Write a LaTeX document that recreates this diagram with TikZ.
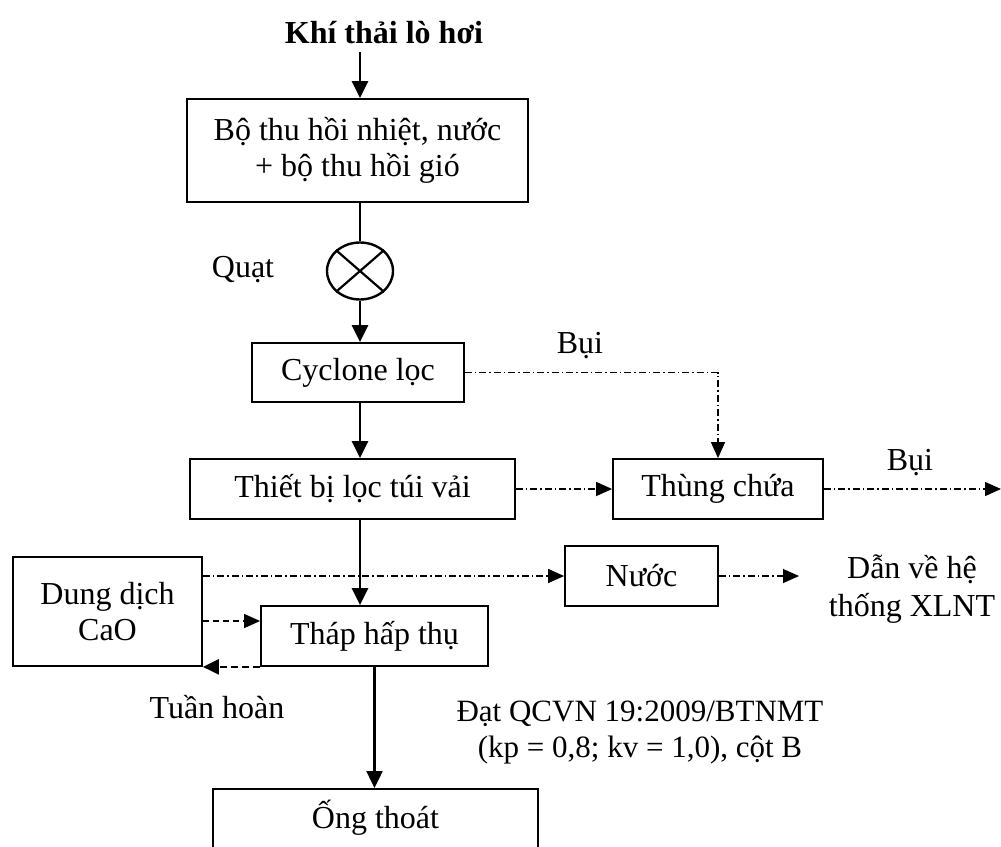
\documentclass[tikz,border=0pt]{standalone}
\usepackage{fontspec}
\setmainfont{Liberation Serif}
\usetikzlibrary{arrows.meta,shapes.geometric}
\begin{document}
\begin{tikzpicture}[x=1pt,y=-1pt,
  box/.style={draw, line width=1.8pt, inner sep=0pt, font=\fontsize{32}{36}\selectfont, align=center},
  lbl/.style={inner sep=0pt, font=\fontsize{32}{36}\selectfont, align=center},
  flow/.style={line width=2.4pt, -{Triangle[length=17pt,width=16pt]}},
  plain/.style={line width=2.4pt},
  ddot/.style={line width=1.3pt, dash pattern=on 7pt off 3pt on 1.5pt off 3pt, -{Triangle[length=16pt,width=14pt]}},
  dsh/.style={line width=1.3pt, dash pattern=on 6pt off 4pt, -{Triangle[length=16pt,width=14pt]}},
  dshthick/.style={line width=2.6pt, dash pattern=on 7pt off 4pt, -{Triangle[length=16pt,width=15pt]}},
]
\clip (0,0) rectangle (1001,846);
\fill[white] (0,0) rectangle (1001,846);

% labels
\node[lbl, font=\fontsize{32}{36}\selectfont\bfseries] (title) at (384,33) {Khí thải lò hơi};
\node[lbl] (quat) at (243,270) {Quạt};
\node[lbl] (bui1) at (580,346) {Bụi};
\node[lbl] (bui2) at (910,463) {Bụi};
\node[lbl, font=\fontsize{32}{38}\selectfont] (xlnt) at (912,589) {Dẫn về hệ\\thống XLNT};
\node[lbl] (tuan) at (217,707) {Tuần hoàn};
\node[lbl, font=\fontsize{31}{36}\selectfont] (dat) at (640,732) {Đạt QCVN 19:2009/BTNMT\\(kp = 0,8; kv = 1,0), cột B};

% boxes
\node[box, minimum width=341pt, minimum height=103pt] (b1) at (357.5,150.5) {Bộ thu hồi nhiệt, nước\\+ bộ thu hồi gió};
\node[draw, ellipse, line width=2.4pt, minimum width=66pt, minimum height=57pt, inner sep=0pt] (fan) at (360,271) {};
\node[box, minimum width=212pt, minimum height=59pt] (cyc) at (358,372.5) {Cyclone lọc};
\node[box, minimum width=325pt, minimum height=60pt] (tb) at (352.5,489) {Thiết bị lọc túi vải};
\node[box, minimum width=210pt, minimum height=60pt] (thung) at (718,489) {Thùng chứa};
\node[box, minimum width=189pt, minimum height=109pt] (cao) at (107.5,611.5) {Dung dịch\\CaO};
\node[box, minimum width=153pt, minimum height=60pt] (nuoc) at (641.5,576) {Nước};
\node[box, minimum width=227pt, minimum height=60pt] (thap) at (374.5,636) {Tháp hấp thụ};
\node[box, minimum width=325pt, minimum height=92pt, anchor=north] (ong) at (375.5,788) {};
\node[lbl] (ongt) at (375.5,818) {Ống thoát};

% fan cross
\draw[line width=2.2pt] (fan.north east) -- (fan.south west);
\draw[line width=2.2pt] (fan.north west) -- (fan.south east);

% main flow
\draw[flow, shorten <=8pt] (title.south -| fan.north) -- (b1.north -| fan.north);
\draw[plain] (b1.south -| fan.north) -- (fan.north);
\draw[flow] (fan.south) -- (fan.south |- cyc.north);
\draw[flow] (cyc.south -| fan.south) -- (fan.south |- tb.north);
\draw[flow] (tb.south -| fan.south) -- (fan.south |- thap.north);
\draw[flow] (thap.south) -- (thap.south |- ong.north);

% dust lines
\draw[ddot] (cyc.east) -| (thung.north);
\draw[ddot] (tb.east) -- (thung.west);
\coordinate (outB) at (1001,489);
\draw[ddot] (thung.east) -- (outB);

% water
\draw[ddot] (cao.east |- nuoc.west) -- (nuoc.west);
\coordinate (toX) at (799,576);
\draw[ddot] (nuoc.east) -- (toX);

% CaO loop
\path ([yshift=15pt]thap.west) coordinate (tin);
\draw[dsh] (tin -| cao.east) -- (tin);
\draw[dshthick] (thap.south west) -- (thap.south west -| cao.east);
\end{tikzpicture}
\end{document}
